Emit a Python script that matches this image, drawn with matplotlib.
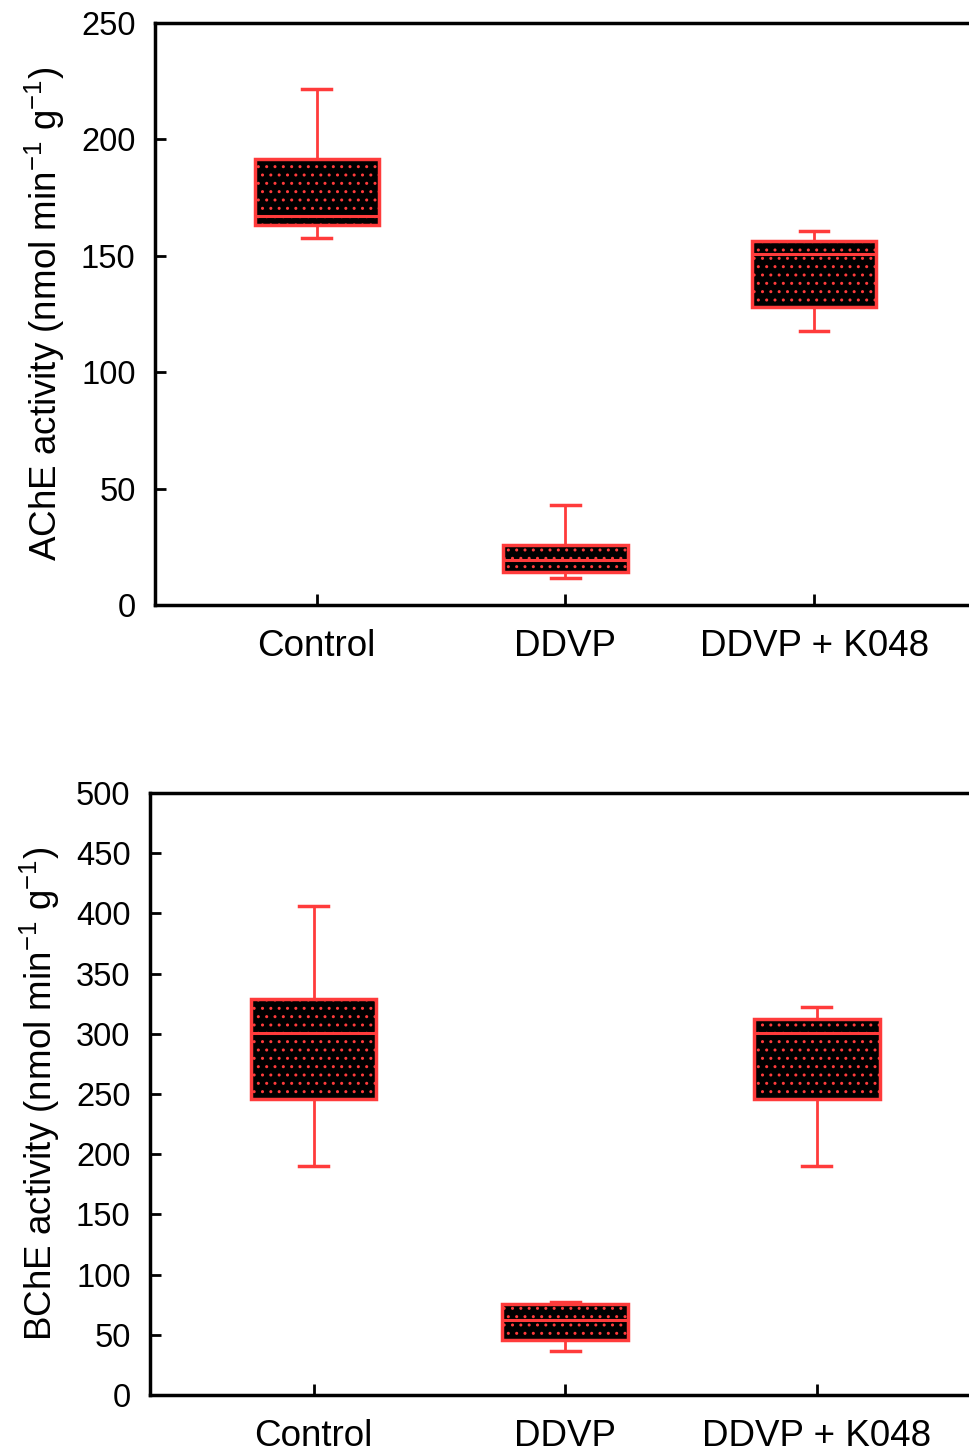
import numpy as np
import matplotlib
matplotlib.use('Agg')
from matplotlib import pyplot as plt

plt.rcParams['font.family'] = ['Liberation Sans', 'DejaVu Sans']
plt.rcParams['hatch.linewidth'] = 1.0

groups = ['Control', 'DDVP', 'DDVP + K048']

# AChE (top)
ache_whislo = [157.6, 11.6, 117.7]
ache_q1 = [163.2, 14.2, 128.0]
ache_med = [167.0, 19.3, 150.8]
ache_q3 = [191.6, 25.8, 156.4]
ache_whishi = [221.6, 43.0, 160.7]

# BChE (bottom)
bche_whislo = [190.2, 36.5, 190.2]
bche_q1 = [245.8, 45.7, 245.8]
bche_med = [300.7, 62.3, 300.7]
bche_q3 = [329.0, 75.6, 312.0]
bche_whishi = [406.0, 77.0, 322.0]

red = '#ff3b3b'


def make_stats(lo, q1, med, q3, hi):
    out = []
    for i in range(len(groups)):
        out.append(dict(whislo=lo[i], q1=q1[i], med=med[i], q3=q3[i],
                        whishi=hi[i], fliers=[], label=groups[i]))
    return out


def draw(ax, stats, ymax, step, ylabel):
    ax.bxp(stats, positions=[1, 2, 3], widths=0.5, patch_artist=True,
           showfliers=False,
           boxprops=dict(facecolor='black', edgecolor=red, linewidth=2.5, hatch='..'),
           medianprops=dict(color=red, linewidth=2.2),
           whiskerprops=dict(color=red, linewidth=2),
           capprops=dict(color=red, linewidth=2.5),
           capwidths=0.115)
    ax.set_xlim(0.35, 3.65)
    ax.set_ylim(0, ymax)
    ax.set_yticks(np.arange(0, ymax + 1, step))
    ax.set_xticks([1, 2, 3])
    ax.set_xticklabels(groups, fontsize=26.5)
    ax.tick_params(axis='y', labelsize=23.5, direction='in', length=8, width=2, pad=14)
    ax.tick_params(axis='x', direction='in', length=8, width=2, pad=17)
    for s in ax.spines.values():
        s.set_linewidth(2.5)
    ax.set_ylabel(ylabel, fontsize=26.5, labelpad=10)


fig = plt.figure(figsize=(9.69, 14.52), dpi=100)
ax1 = fig.add_axes([0.16, 0.5833, 0.847, 0.4009])
ax2 = fig.add_axes([0.1548, 0.0393, 0.857, 0.4146])

draw(ax1, make_stats(ache_whislo, ache_q1, ache_med, ache_q3, ache_whishi), 250, 50,
     r'AChE activity (nmol min$^{\mathregular{-1}}$ g$^{\mathregular{-1}}$)')
draw(ax2, make_stats(bche_whislo, bche_q1, bche_med, bche_q3, bche_whishi), 500, 50,
     r'BChE activity (nmol min$^{\mathregular{-1}}$ g$^{\mathregular{-1}}$)')

fig.savefig('out.png', dpi=100)
